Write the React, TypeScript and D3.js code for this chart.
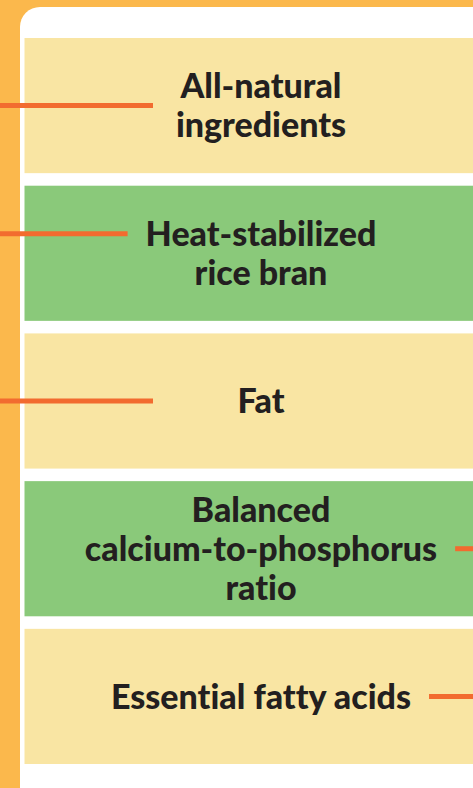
import * as d3 from 'd3'
import { useEffect, useRef } from 'react'

const width = 473, height = 788

// one entry per band, top to bottom
const labels = [
  ['All-natural', 'ingredients'],
  ['Heat-stabilized', 'rice bran'],
  ['Fat'],
  ['Balanced', 'calcium-to-phosphorus', 'ratio'],
  ['Essential fatty acids'],
]
const fills = ['#f9e5a3', '#8ac97a', '#f9e5a3', '#8ac97a', '#f9e5a3']
// where the orange pointer comes in from, and which text row it lines up with
const pointerSide = ['left', 'left', 'left', 'right', 'right']
const pointerRow = [0.5, 0, 0, 1, 0]

const orange = '#fbb84c', pointer = '#f26b2f', ink = '#231f20'
const lineHeight = 39, textX = 261, leftStop = 153, gap = 18

const draw = (node: SVGSVGElement) => {
  const svg = d3.select(node)
  svg.selectAll('*').remove()

  const y = d3.scaleBand<number>()
    .domain(d3.range(labels.length))
    .range([38, 764])
    .paddingInner(0.085)

  svg.append('rect')
    .attr('width', width).attr('height', height)
    .attr('fill', orange)

  svg.append('rect')
    .attr('x', 20).attr('y', 7)
    .attr('width', width + 20).attr('height', height + 20)
    .attr('rx', 20)
    .attr('fill', '#fff')

  const band = svg.append('g')
    .selectAll('g')
    .data(labels)
    .join('g')

  band.append('rect')
    .attr('x', 24.5)
    .attr('y', (d, i) => y(i)!)
    .attr('width', width - 24.5)
    .attr('height', y.bandwidth())
    .attr('fill', (d, i) => fills[i])

  const mid = (i: number, row: number) =>
    y(i)! + y.bandwidth() / 2 + (row - (labels[i].length - 1) / 2) * lineHeight

  band.each(function (lines, i) {
    const g = d3.select(this)
    const texts = g.selectAll('text.lbl')
      .data(lines)
      .join('text')
      .attr('class', 'lbl')
      .attr('x', textX)
      .attr('y', (d, r) => mid(i, r))
      .attr('dy', '0.36em')
      .attr('text-anchor', 'middle')
      .attr('font-family', 'Lato, sans-serif')
      .attr('font-weight', 900)
      .attr('font-size', 34)
      .style('font-variant-ligatures', 'none')
      .attr('fill', ink)
      .text(d => d)

    // edge of the row the pointer touches
    const row = Math.floor(pointerRow[i])
    const w = (texts.nodes()[row] as SVGTextElement).getComputedTextLength()
    const py = mid(i, pointerRow[i])
    const [x1, x2] = pointerSide[i] === 'left'
      ? [0, Math.min(leftStop, textX - w / 2 - gap)]
      : [textX + w / 2 + gap, width]

    g.append('line')
      .attr('x1', x1).attr('x2', x2)
      .attr('y1', py).attr('y2', py)
      .attr('stroke', pointer)
      .attr('stroke-width', 5)
  })
}

export default function App() {
  const ref = useRef<SVGSVGElement>(null)
  useEffect(() => {
    if (ref.current) draw(ref.current)
  }, [])
  return (
    <svg ref={ref} width={width} height={height}
      style={{ display: 'block', position: 'absolute', left: 0, top: 0 }} />
  )
}
